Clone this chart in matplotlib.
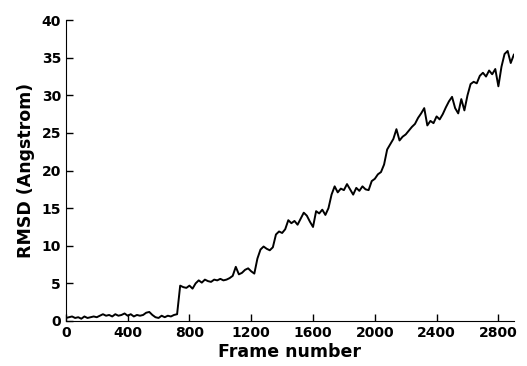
import numpy as np
import matplotlib
matplotlib.use('Agg')
import matplotlib.pyplot as plt

# RMSD, one value every 20 frames (0..2900)
frames = np.arange(0, 2901, 20)
rmsd = [
    0.4, 0.5, 0.6, 0.4, 0.5, 0.3, 0.6, 0.4, 0.5, 0.6,      # 0-180
    0.5, 0.7, 0.9, 0.7, 0.8, 0.6, 0.9, 0.7, 0.8, 1.0,      # 200-380
    0.7, 0.9, 0.6, 0.8, 0.7, 0.8, 1.1, 1.2, 0.8, 0.5,      # 400-580
    0.4, 0.7, 0.5, 0.7, 0.6, 0.8, 0.9, 4.7, 4.5, 4.4,      # 600-780
    4.7, 4.3, 5.0, 5.4, 5.1, 5.5, 5.3, 5.2, 5.5, 5.4,      # 800-980
    5.6, 5.4, 5.5, 5.7, 6.0, 7.2, 6.2, 6.4, 6.8, 7.0,      # 1000-1180
    6.6, 6.3, 8.3, 9.5, 9.9, 9.6, 9.4, 9.8, 11.5, 11.9,    # 1200-1380
    11.7, 12.2, 13.4, 13.0, 13.3, 12.8, 13.6, 14.4, 14.0, 13.2,  # 1400-1580
    12.5, 14.6, 14.3, 14.8, 14.1, 15.0, 16.8, 17.9, 17.1, 17.6,  # 1600-1780
    17.4, 18.2, 17.5, 16.8, 17.7, 17.3, 17.9, 17.5, 17.4, 18.6,  # 1800-1980
    18.9, 19.5, 19.8, 20.8, 22.8, 23.5, 24.2, 25.5, 24.0, 24.5,  # 2000-2180
    24.8, 25.3, 25.8, 26.2, 27.0, 27.6, 28.3, 26.0, 26.6, 26.3,  # 2200-2380
    27.2, 26.8, 27.5, 28.4, 29.2, 29.8, 28.3, 27.6, 29.5, 28.0,  # 2400-2580
    30.0, 31.5, 31.8, 31.6, 32.6, 33.0, 32.5, 33.3, 32.8, 33.5,  # 2600-2780
    31.2, 33.8, 35.5, 35.9, 34.3, 35.4,                          # 2800-2900
]

fig, ax = plt.subplots(figsize=(5.27, 3.66), dpi=100)
fig.subplots_adjust(left=0.125, right=0.975, bottom=0.123, top=0.945)

ax.plot(frames, rmsd, color='black', linewidth=1.4)

ax.set_xlim(0, 2900)
ax.set_ylim(0, 40)
ax.set_xticks(np.arange(0, 2801, 400))
ax.set_yticks(np.arange(0, 41, 5))
ax.spines['top'].set_visible(False)
ax.spines['right'].set_visible(False)
ax.tick_params(direction='in', length=5, width=1, labelsize=10)
for lab in ax.get_xticklabels() + ax.get_yticklabels():
    lab.set_fontweight('bold')

ax.set_xlabel("Frame number", fontsize=12.5, fontweight='bold', labelpad=2)
ax.set_ylabel("RMSD (Angstrom)", fontsize=12.5, fontweight='bold', labelpad=5)

fig.savefig('out.png', dpi=100)
